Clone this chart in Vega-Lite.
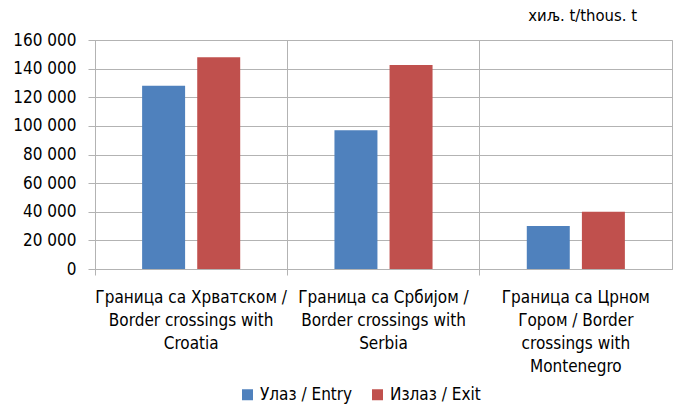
{
  "$schema": "https://vega.github.io/schema/vega-lite/v6.json",
  "width": 577,
  "height": 229,
  "autosize": {"type": "none"},
  "padding": {"left": 95, "top": 40, "right": 2, "bottom": 139},
  "background": "white",
  "config": {
    "font": "DejaVu Sans Condensed, Liberation Sans, sans-serif",
    "view": {"stroke": "#b3b3b3", "strokeWidth": 1}
  },
  "title": {
    "text": "хиљ. t/thous. t",
    "anchor": "end",
    "orient": "top",
    "font": "DejaVu Sans Condensed, Liberation Sans, sans-serif",
    "fontSize": 16.5,
    "fontWeight": "normal",
    "color": "#000000",
    "dx": -35,
    "offset": 7
  },
  "data": {
    "values": [
      {"border": "Croatia", "flow": "Улаз / Entry", "value": 128000},
      {"border": "Croatia", "flow": "Излаз / Exit", "value": 148000},
      {"border": "Serbia", "flow": "Улаз / Entry", "value": 97000},
      {"border": "Serbia", "flow": "Излаз / Exit", "value": 142500},
      {"border": "Montenegro", "flow": "Улаз / Entry", "value": 30000},
      {"border": "Montenegro", "flow": "Излаз / Exit", "value": 40000}
    ]
  },
  "mark": {"type": "bar"},
  "encoding": {
    "x": {
      "field": "border",
      "type": "nominal",
      "sort": ["Croatia", "Serbia", "Montenegro"],
      "scale": {"paddingInner": 0, "paddingOuter": 0},
      "axis": {
        "title": null,
        "labelAngle": 0,
        "bandPosition": 0,
        "grid": true,
        "gridColor": "#b3b3b3",
        "domainColor": "#b3b3b3",
        "tickColor": "#b3b3b3",
        "tickSize": 6,
        "labelFontSize": 17,
        "labelColor": "#000000",
        "labelPadding": 14,
        "labelLineHeight": 23.2,
        "labelBaseline": "top",
        "labelLimit": 0,
        "labelExpr": "datum.value == 'Croatia' ? ['Граница са Хрватском /', 'Border crossings with', 'Croatia'] : datum.value == 'Serbia' ? ['Граница са Србијом /', 'Border crossings with', 'Serbia'] : ['Граница са Црном', 'Гором / Border', 'crossings with', 'Montenegro']"
      }
    },
    "xOffset": {
      "field": "flow",
      "type": "nominal",
      "sort": ["Улаз / Entry", "Излаз / Exit"],
      "scale": {"paddingInner": 0.22, "paddingOuter": 0.855}
    },
    "y": {
      "field": "value",
      "type": "quantitative",
      "scale": {"domain": [0, 160000], "nice": false},
      "axis": {
        "title": null,
        "values": [0, 20000, 40000, 60000, 80000, 100000, 120000, 140000, 160000],
        "labelExpr": "replace(format(datum.value, ','), /,/g, ' ')",
        "grid": true,
        "gridColor": "#b3b3b3",
        "domainColor": "#b3b3b3",
        "tickColor": "#b3b3b3",
        "tickSize": 7,
        "labelFontSize": 17,
        "labelColor": "#000000",
        "labelPadding": 12
      }
    },
    "color": {
      "field": "flow",
      "type": "nominal",
      "sort": ["Улаз / Entry", "Излаз / Exit"],
      "scale": {"range": ["#4F81BD", "#C0504D"]},
      "legend": {
        "title": null,
        "orient": "none",
        "direction": "horizontal",
        "legendX": 144,
        "legendY": 346,
        "symbolType": "square",
        "symbolSize": 121,
        "symbolStrokeWidth": 0,
        "labelFontSize": 17,
        "labelColor": "#000000",
        "columnPadding": 16,
        "labelOffset": 4
      }
    }
  }
}
